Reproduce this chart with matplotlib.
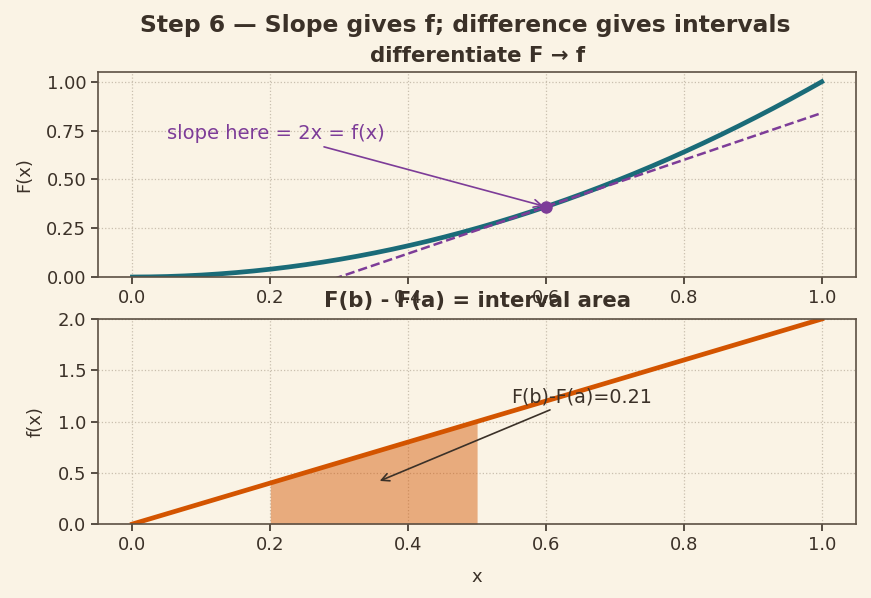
import numpy as np
import matplotlib.pyplot as plt

# data
x = np.linspace(0, 1, 200)
F = x ** 2
f = 2 * x
x0 = 0.6
a, b = 0.2, 0.5
area = b ** 2 - a ** 2
xticks = [0.0, 0.2, 0.4, 0.6, 0.8, 1.0]

BG = "#faf3e5"
INK = "#3b3128"
TEAL = "#1a6b78"
ORANGE = "#d35400"
PURPLE = "#7d3c98"

plt.rcParams.update({
    "font.family": "DejaVu Sans",
    "text.color": INK,
    "axes.labelcolor": INK,
    "xtick.color": INK,
    "ytick.color": INK,
    "axes.edgecolor": "#5c5044",
})

fig, (ax1, ax2) = plt.subplots(2, 1, figsize=(8.71, 5.98), dpi=100)
fig.patch.set_facecolor(BG)
fig.subplots_adjust(left=0.1125, right=0.983, top=0.8796, bottom=0.1237, hspace=0.205)

for ax in (ax1, ax2):
    ax.set_facecolor(BG)
    ax.grid(True, linestyle=":", color="#c9bfae", linewidth=0.9)
    ax.set_axisbelow(True)
    ax.tick_params(labelsize=13, length=5, width=1.2)
    for s in ax.spines.values():
        s.set_linewidth(1.2)
    ax.set_xlim(-0.05, 1.05)
    ax.set_xticks(xticks)

fig.suptitle("Step 6 — Slope gives f; difference gives intervals",
             fontsize=16.8, fontweight="bold", color=INK, x=0.534, y=0.977)

# top panel
ax1.plot(x, F, color=TEAL, lw=3.4)
tangent = x0 ** 2 + 2 * x0 * (x - x0)
ax1.plot(x, tangent, color=PURPLE, lw=1.8, ls="--")
ax1.plot([x0], [x0 ** 2], "o", color=PURPLE, ms=8)
ax1.set_ylim(0, 1.05)
ax1.set_yticks([0, 0.25, 0.5, 0.75, 1.0])
ax1.set_ylabel("F(x)", fontsize=13, labelpad=9)
ax1.set_title("differentiate F → f", fontsize=15.3, fontweight="bold", color=INK, pad=7)
ax1.annotate("slope here = 2x = f(x)", xy=(x0, x0 ** 2), xytext=(0.05, 0.705),
             color=PURPLE, fontsize=14,
             arrowprops=dict(arrowstyle="->", color=PURPLE, lw=1.2))

# bottom panel
ax2.plot(x, f, color=ORANGE, lw=3.4)
xs = np.linspace(a, b, 50)
ax2.fill_between(xs, 0, 2 * xs, color=ORANGE, alpha=0.45, lw=0)
ax2.set_ylim(0, 2.0)
ax2.set_yticks([0, 0.5, 1.0, 1.5, 2.0])
ax2.set_ylabel("f(x)", fontsize=13, labelpad=9)
ax2.set_xlabel("x", fontsize=13, labelpad=10)
ax2.set_title("F(b) - F(a) = interval area", fontsize=15.3, fontweight="bold", color=INK, pad=8.5)
ax2.annotate(f"F(b)-F(a)={area:.2f}", xy=(0.355, 0.41), xytext=(0.55, 1.19),
             color=INK, fontsize=13.8,
             arrowprops=dict(arrowstyle="->", color=INK, lw=1.2))

fig.savefig("out.png", dpi=100, facecolor=BG)
